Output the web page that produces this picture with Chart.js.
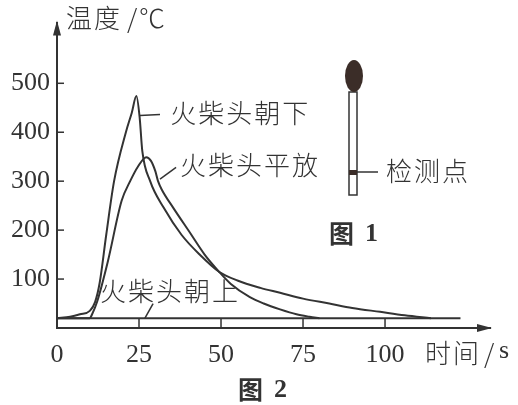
<!DOCTYPE html>
<html>
<head>
<meta charset="utf-8">
<script src="https://cdn.jsdelivr.net/npm/chart.js@4.4.0/dist/chart.umd.min.js"></script>
<style>
html,body{margin:0;padding:0;background:#fff}
#wrap{width:518px;height:405px}
</style>
</head>
<body>
<div id="wrap"><canvas id="myChart"></canvas></div>
<script>
// 火柴头朝下
const downTime = [0, 4, 7, 10, 11.6, 13, 15, 17.4, 21, 22.8, 24.2, 25.2, 26, 28.4, 32.5, 38, 43.5, 49.4, 55, 62, 68, 75, 83, 90, 98.5, 106, 114];
const downTemp = [20, 23, 28, 35, 53, 92, 190, 300, 400, 440, 474, 430, 362, 300, 246, 190, 150, 115, 97, 82, 72, 60, 50, 41, 33, 26, 20];
// 火柴头平放
const flatTime = [0, 10, 10.7, 12.2, 15.5, 19.7, 22.3, 24.7, 27.2, 28.6, 30, 30.8, 32, 35.4, 40.5, 45, 49.4, 53, 58.8, 63, 68, 73, 77, 80];
const flatTemp = [20, 20, 28, 53, 136, 260, 300, 330, 349, 342, 320, 300, 282, 246, 195, 150, 115, 90, 63, 50, 38, 28, 23, 20];
// 火柴头朝上
const upTime = [0, 123];
const upTemp = [20, 20];

const xTicks = [0, 25, 50, 75, 100];
const yTicks = [100, 200, 300, 400, 500];

const ink = '#333';
const serif = '"Liberation Serif", "DejaVu Serif", serif';
const cjk = '"Noto Sans CJK SC", sans-serif';

const toPoints = (xs, ys) => xs.map((x, i) => ({x: x, y: ys[i]}));

const extras = {
  id: 'extras',
  afterDraw(chart) {
    const ctx = chart.ctx;
    const xs = chart.scales.x, ys = chart.scales.y;
    const a = chart.chartArea;
    const px = v => xs.getPixelForValue(v);
    const py = v => ys.getPixelForValue(v);
    ctx.save();
    ctx.strokeStyle = ink;
    ctx.fillStyle = ink;
    ctx.lineWidth = 2;

    // arrows
    ctx.beginPath();
    ctx.moveTo(a.left, a.top - 2);
    ctx.lineTo(a.left - 4, a.top + 13);
    ctx.lineTo(a.left + 4, a.top + 13);
    ctx.closePath();
    ctx.fill();
    ctx.beginPath();
    ctx.moveTo(a.right + 2, a.bottom);
    ctx.lineTo(a.right - 13, a.bottom - 4);
    ctx.lineTo(a.right - 13, a.bottom + 4);
    ctx.closePath();
    ctx.fill();

    // tick marks inside
    ctx.lineWidth = 1.5;
    yTicks.forEach(v => {
      ctx.beginPath();
      ctx.moveTo(a.left, py(v));
      ctx.lineTo(a.left + 7, py(v));
      ctx.stroke();
    });
    xTicks.slice(1).forEach(v => {
      ctx.beginPath();
      ctx.moveTo(px(v), a.bottom);
      ctx.lineTo(px(v), py(upTemp[0]));
      ctx.stroke();
    });

    // leader lines
    const lead = (x1, y1, x2, y2) => {
      ctx.beginPath();
      ctx.moveTo(px(x1), py(y1));
      ctx.lineTo(px(x2), py(y2));
      ctx.stroke();
    };
    lead(25.3, 434, 31.4, 436);
    lead(31.4, 304, 36.3, 328);
    lead(29.3, 50, 26.8, 20);

    ctx.textBaseline = 'middle';
    ctx.textAlign = 'left';
    ctx.letterSpacing = '2px';
    ctx.font = '300 26px ' + cjk;
    ctx.fillText('火柴头朝下', px(34.5), py(440));
    ctx.fillText('火柴头平放', px(37.5), py(333));
    ctx.fillText('火柴头朝上', px(13.1), py(75));

    // axis titles
    ctx.fillText('温度', 66, 18);
    ctx.fillText('时间', 425, 353);
    ctx.letterSpacing = '0px';
    ctx.font = '300 26px ' + cjk;
    ctx.fillText('/', 127, 18);
    ctx.fillText('℃', 139, 18);
    ctx.fillText('/', 484, 353);
    ctx.font = '26px ' + serif;
    ctx.fillText('s', 499, 351);

    // match figure (图 1)
    ctx.lineWidth = 1.5;
    ctx.fillStyle = '#fff';
    ctx.fillRect(349, 92, 8, 103);
    ctx.strokeRect(349, 92, 8, 103);
    ctx.fillStyle = '#3b2d28';
    ctx.beginPath();
    ctx.ellipse(354, 76, 9, 16, 0, 0, Math.PI * 2);
    ctx.fill();
    ctx.fillRect(349, 170, 8, 5);
    ctx.beginPath();
    ctx.moveTo(357, 172);
    ctx.lineTo(378, 172);
    ctx.stroke();
    ctx.fillStyle = ink;
    ctx.letterSpacing = '2px';
    ctx.font = '300 26px ' + cjk;
    ctx.fillText('检测点', 386, 171);

    ctx.letterSpacing = '0px';
    ctx.font = 'bold 25px ' + cjk;
    ctx.fillText('图', 329, 233);
    ctx.fillText('图', 238, 389);
    ctx.font = 'bold 26px ' + serif;
    ctx.fillText('1', 365, 234);
    ctx.fillText('2', 274, 390);
    ctx.restore();
  }
};

const lineStyle = {
  borderColor: ink,
  borderWidth: 2,
  pointRadius: 0,
  fill: false,
  cubicInterpolationMode: 'monotone'
};

const myChart = new Chart(document.getElementById('myChart').getContext('2d'), {
  type: 'line',
  data: {
    datasets: [
      Object.assign({label: '火柴头朝下', data: toPoints(downTime, downTemp)}, lineStyle),
      Object.assign({label: '火柴头平放', data: toPoints(flatTime, flatTemp)}, lineStyle),
      Object.assign({label: '火柴头朝上', data: toPoints(upTime, upTemp)}, lineStyle)
    ]
  },
  options: {
    responsive: true,
    maintainAspectRatio: false,
    animation: false,
    layout: {padding: {top: 5, right: 28, left: 0, bottom: 0}},
    plugins: {legend: {display: false}, tooltip: {enabled: false}},
    scales: {
      x: {
        type: 'linear',
        min: 0,
        max: 132,
        afterBuildTicks: s => { s.ticks = xTicks.map(v => ({value: v})); },
        afterFit: s => { s.height = 77; },
        grid: {display: false, drawTicks: false},
        border: {display: true, color: ink, width: 2},
        ticks: {color: ink, font: {family: serif, size: 26}, padding: 12, maxRotation: 0, autoSkip: false}
      },
      y: {
        type: 'linear',
        min: 0,
        max: 624,
        afterBuildTicks: s => { s.ticks = yTicks.map(v => ({value: v})); },
        afterFit: s => { s.width = 57; },
        grid: {display: false, drawTicks: false},
        border: {display: true, color: ink, width: 2},
        ticks: {color: ink, font: {family: serif, size: 26}, padding: 7, autoSkip: false}
      }
    }
  },
  plugins: [extras]
});
</script>
</body>
</html>
